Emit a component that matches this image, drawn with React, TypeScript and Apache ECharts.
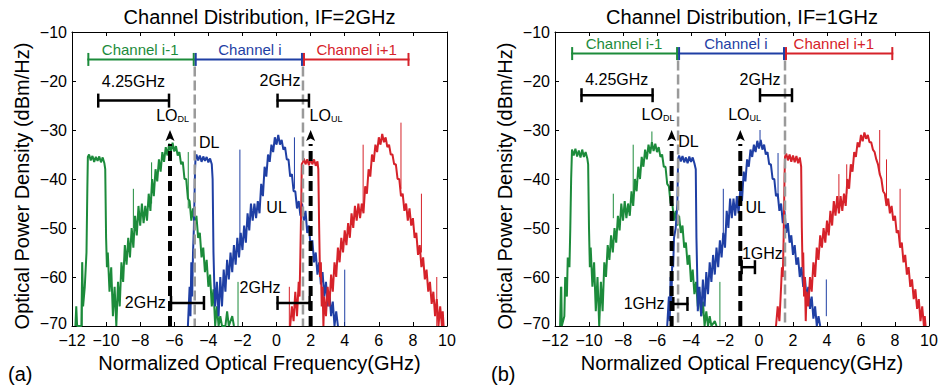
import React, { useEffect, useRef } from "react";
import * as echarts from "echarts";

type P = [number, number];

// ---------- axis ticks ----------
const xMin = -12, xMax = 10, xStep = 2;
const yMin = -70, yMax = -10, yStep = 10;

// ---------- panel (a) : IF = 2 GHz ----------
const greenA: P[] = [
  [-11.8,-70],[-11.75,-66],[-11.7,-70],[-11.45,-70],[-11.4,-57],[-11.35,-66],[-11.25,-62],[-11.15,-55],[-11.1,-42],[-11.07,-35.5],
  [-11.0,-35],[-10.9,-36.2],[-10.8,-35.3],[-10.7,-36.5],[-10.6,-35.5],[-10.5,-36.3],[-10.4,-35.4],[-10.3,-36.6],[-10.2,-35.6],[-10.1,-36.8],[-10.05,-38],
  [-10.0,-52],[-9.95,-58],[-9.9,-55],[-9.8,-63],[-9.7,-58],[-9.6,-68],[-9.5,-62],[-9.4,-70],[-9.3,-61],[-9.2,-66],[-9.1,-57],[-9.0,-61],
  [-8.9,-53.5],[-8.8,-57.5],[-8.7,-52],[-8.6,-56],[-8.5,-50],[-8.4,-54],[-8.3,-47.5],[-8.2,-51.5],[-8.1,-45.5],[-8.0,-49.5],[-7.9,-45],[-7.8,-49],
  [-7.7,-45.5],[-7.6,-48.5],[-7.5,-43],[-7.4,-46.5],[-7.3,-40],[-7.2,-43.5],[-7.1,-38],[-7.0,-40.5],[-6.9,-36],[-6.8,-38.5],[-6.7,-34.5],[-6.6,-36.5],
  [-6.5,-33.5],[-6.4,-35.2],[-6.3,-32.8],[-6.2,-34.5],[-6.1,-32.6],[-6.0,-34.4],[-5.9,-33.3],[-5.8,-35.2],[-5.7,-34.5],[-5.6,-37],[-5.5,-36.5],[-5.4,-40],
  [-5.3,-40],[-5.2,-44],[-5.1,-44.5],[-5.0,-48.5],[-4.9,-46],[-4.8,-49.5],[-4.7,-47.5],[-4.6,-52],[-4.5,-51],[-4.4,-56],[-4.3,-54],[-4.2,-59],
  [-4.1,-56.5],[-4.0,-62],[-3.9,-59.5],[-3.8,-66],[-3.7,-62.5],[-3.6,-70],[-3.5,-66],[-3.4,-70],[-3.3,-68],[-3.2,-70],[-3.0,-70],[-2.9,-67],[-2.8,-70],[-2.6,-68],[-2.5,-70]
];
const blueA: P[] = [
  [-5.2,-70],[-5.1,-62],[-5.05,-68],[-5.0,-57],[-4.95,-64],[-4.9,-55],[-4.85,-50],[-4.78,-38],[-4.75,-35.5],[-4.7,-35],[-4.6,-36.2],[-4.5,-35.2],
  [-4.4,-36.5],[-4.3,-35.4],[-4.2,-36.3],[-4.1,-35.5],[-4.0,-36.6],[-3.9,-35.8],[-3.8,-37],[-3.75,-40],[-3.7,-55],[-3.65,-62],
  [-3.6,-66],[-3.5,-61],[-3.4,-68],[-3.3,-60],[-3.2,-66],[-3.1,-58.5],[-3.0,-63],[-2.9,-56.5],[-2.8,-60.5],[-2.7,-55],[-2.6,-59],[-2.5,-53.5],
  [-2.4,-57.5],[-2.3,-52],[-2.2,-56],[-2.1,-51],[-2.0,-54.5],[-1.9,-49.5],[-1.8,-53],[-1.7,-47],[-1.6,-50.5],[-1.5,-45],[-1.4,-48.5],[-1.3,-45],
  [-1.2,-48],[-1.1,-44.5],[-1.0,-47],[-0.9,-41],[-0.8,-43.5],[-0.7,-37.5],[-0.6,-39.5],[-0.5,-35],[-0.4,-36.5],[-0.3,-33],[-0.2,-34.5],[-0.1,-31.5],
  [0.0,-33],[0.1,-31],[0.2,-33],[0.3,-32],[0.4,-34],[0.5,-33.5],[0.6,-36],[0.7,-36],[0.8,-39.5],[0.9,-39],[1.0,-42.5],[1.1,-42.5],[1.2,-46],
  [1.3,-44.5],[1.4,-47.5],[1.5,-45],[1.6,-48.5],[1.7,-46.5],[1.8,-51],[1.9,-49.5],[2.0,-54],[2.1,-52.5],[2.2,-57],[2.3,-55],[2.4,-59.5],[2.5,-57],
  [2.6,-61.5],[2.7,-59],[2.8,-64],[2.9,-61],[3.0,-66],[3.1,-63],[3.2,-68],[3.3,-65],[3.4,-70],[3.5,-67],[3.6,-70]
];
const redA: P[] = [
  [0.8,-70],[0.9,-66],[1.0,-69],[1.1,-63],[1.2,-68],[1.3,-61],[1.35,-64],[1.4,-55],[1.45,-45],[1.48,-37],[1.55,-36.5],[1.6,-35.8],[1.7,-37],
  [1.8,-36],[1.9,-37.2],[2.0,-35.8],[2.1,-37],[2.2,-36],[2.3,-37.3],[2.4,-36.4],[2.45,-38],[2.5,-50],[2.55,-60],[2.6,-57],[2.65,-66],[2.7,-62],
  [2.75,-70],[2.8,-64],[2.9,-68],[3.0,-62],[3.1,-66],[3.2,-59.5],[3.3,-63],[3.4,-57],[3.5,-60],[3.6,-54],[3.7,-57],[3.8,-52],[3.9,-55],[4.0,-50.5],
  [4.1,-53.5],[4.2,-49],[4.3,-52],[4.4,-47],[4.5,-50],[4.6,-45.5],[4.7,-48.5],[4.8,-45],[4.9,-48],[5.0,-45],[5.1,-47],[5.2,-41.5],[5.3,-43],
  [5.4,-38],[5.5,-39.5],[5.6,-35],[5.7,-36.5],[5.8,-33],[5.9,-34.5],[6.0,-31.5],[6.1,-33],[6.2,-30.8],[6.3,-32.5],[6.4,-31.5],[6.5,-33.5],[6.6,-33],
  [6.7,-35],[6.8,-35],[6.9,-37],[7.0,-37],[7.1,-40],[7.2,-40],[7.3,-43.5],[7.4,-43],[7.5,-46.5],[7.6,-45],[7.7,-48.5],[7.8,-46],[7.9,-49.5],
  [8.0,-48],[8.1,-52],[8.2,-51],[8.3,-55.5],[8.4,-53.5],[8.5,-58],[8.6,-56],[8.7,-60.5],[8.8,-58.5],[8.9,-63],[9.0,-61],[9.1,-65.5],[9.2,-63],
  [9.3,-68],[9.4,-64.5],[9.5,-70],[9.6,-66],[9.7,-70],[9.75,-67],[9.8,-70]
];
// spurs: [x, low, high]
const greenSpursA: number[][] = [[-11.4,-70,-57],[-8.4,-50,-42],[-7.33,-45,-36.6],[-5.18,-46,-34.5],[-2.26,-70,-61]];
const blueSpursA: number[][] = [[-2.15,-53,-34],[1.05,-42,-31.5],[4.0,-70,-58.5]];
const redSpursA: number[][] = [[0.75,-70,-62],[5.08,-46,-33],[7.3,-42,-28.5],[8.5,-55,-43],[9.4,-70,-60]];

const channelsA: number[][] = [[-11.1,-4.8,-15.6],[-4.8,1.55,-15.6],[1.55,7.8,-15.6]];
const channelLabelPosA: P[] = [[-8.0,-13.6],[-1.56,-13.6],[4.7,-13.6]];
const boundariesA: number[] = [-4.8, 1.55];
const bracketsA: number[][] = [[-10.52,-6.25,-24],[0,1.96,-24],[-6.25,-4.2,-65.3],[0,2,-65.3]];
const textsA: string[] = ["4.25GHz","2GHz","2GHz","2GHz","DL","UL"];
const textPosA: P[] = [[-8.4,-20.1],[0.2,-19.8],[-7.7,-65.3],[-0.97,-62.1],[-3.95,-32.6],[0,-45.8]];
const loXA: number[] = [-6.25, 2.0];
const loSubA: string[] = ["DL","UL"];
const loLabelPosA: P[] = [[-6.1,-27.1],[2.9,-27.1]];

// ---------- panel (b) : IF = 1 GHz ----------
const greenB: P[] = [
  [-11.7,-70],[-11.65,-62],[-11.6,-70],[-11.45,-68],[-11.4,-60],[-11.3,-64],[-11.25,-56],[-11.15,-58],[-11.1,-50],[-11.05,-40],[-11.0,-34],
  [-10.9,-35.2],[-10.8,-33.8],[-10.7,-35.4],[-10.6,-34.2],[-10.5,-35.6],[-10.4,-34],[-10.3,-35.5],[-10.2,-34.5],[-10.1,-35.8],[-10.05,-37],
  [-10.0,-50],[-9.95,-58],[-9.9,-54],[-9.8,-62],[-9.7,-57],[-9.6,-67],[-9.5,-60],[-9.4,-70],[-9.3,-61],[-9.2,-67],[-9.1,-57],[-9.0,-60],
  [-8.9,-53.5],[-8.8,-56.5],[-8.7,-51.5],[-8.6,-55],[-8.5,-50],[-8.4,-53],[-8.3,-47.5],[-8.2,-50.5],[-8.1,-45],[-8.0,-48.5],[-7.9,-44.5],[-7.8,-48],
  [-7.7,-45],[-7.6,-47.5],[-7.5,-42.5],[-7.4,-45.5],[-7.3,-40],[-7.2,-42.5],[-7.1,-37.5],[-7.0,-40],[-6.9,-35.5],[-6.8,-37.5],[-6.7,-34],[-6.6,-36],
  [-6.5,-33],[-6.4,-34.8],[-6.3,-32.5],[-6.2,-34.3],[-6.1,-32.8],[-6.0,-34.5],[-5.9,-33.5],[-5.8,-35.5],[-5.7,-35],[-5.6,-37.5],[-5.5,-37.5],[-5.4,-41],
  [-5.3,-41.5],[-5.2,-45],[-5.1,-45],[-5.0,-48.5],[-4.9,-46.5],[-4.8,-49.5],[-4.7,-47.5],[-4.6,-51],[-4.5,-49.5],[-4.4,-54],[-4.3,-53],[-4.2,-57.5],
  [-4.1,-55.5],[-4.0,-61],[-3.9,-58.5],[-3.8,-63.5],[-3.7,-61],[-3.6,-66],[-3.5,-63],[-3.4,-68],[-3.3,-65],[-3.2,-70],[-3.1,-67],[-3.0,-70],
  [-2.9,-68],[-2.8,-70],[-2.6,-69],[-2.5,-70]
];
const blueB: P[] = [
  [-5.4,-70],[-5.3,-64],[-5.25,-69],[-5.2,-60],[-5.15,-65],[-5.1,-56],[-5.05,-58],[-5.0,-52],[-4.9,-50],[-4.8,-45],[-4.77,-38],[-4.75,-35.8],
  [-4.7,-35.2],[-4.6,-36.4],[-4.5,-35.3],[-4.4,-36.6],[-4.3,-35.6],[-4.2,-36.8],[-4.1,-35.4],[-4.0,-36.5],[-3.9,-35.6],[-3.8,-36.8],[-3.72,-38],
  [-3.68,-52],[-3.62,-62],[-3.6,-67],[-3.5,-62],[-3.4,-68],[-3.3,-60.5],[-3.2,-66],[-3.1,-59],[-3.0,-63.5],[-2.9,-57],[-2.8,-61],[-2.7,-55.5],
  [-2.6,-59.5],[-2.5,-54],[-2.4,-58],[-2.3,-52.5],[-2.2,-56],[-2.1,-51],[-2.0,-54],[-1.9,-46.5],[-1.8,-50],[-1.7,-44],[-1.6,-48],[-1.5,-44],
  [-1.4,-47.5],[-1.3,-43.5],[-1.2,-47],[-1.1,-42],[-1.0,-44.5],[-0.9,-38.5],[-0.8,-40.5],[-0.7,-36],[-0.6,-37.5],[-0.5,-34],[-0.4,-35.5],[-0.3,-33],
  [-0.2,-34.5],[-0.1,-32.2],[0.0,-33.8],[0.1,-32],[0.2,-34],[0.3,-33],[0.4,-35],[0.5,-34.5],[0.6,-37],[0.7,-37],[0.8,-40],[0.9,-40],[1.0,-43.5],
  [1.1,-43],[1.2,-46.5],[1.3,-45],[1.4,-49],[1.5,-46.5],[1.6,-51],[1.7,-49],[1.8,-53],[1.9,-51.5],[2.0,-55.5],[2.1,-53.5],[2.2,-57.5],[2.3,-56],
  [2.4,-60],[2.5,-58],[2.6,-62],[2.7,-60],[2.8,-64.5],[2.9,-62],[3.0,-66.5],[3.1,-64],[3.2,-68.5],[3.3,-66],[3.4,-70],[3.5,-68],[3.6,-70]
];
const redB: P[] = [
  [1.0,-70],[1.1,-66],[1.2,-69],[1.3,-62],[1.35,-58],[1.4,-60],[1.45,-52],[1.5,-40],[1.53,-35.5],[1.6,-34.8],[1.7,-36.2],[1.8,-35],[1.9,-36.5],
  [2.0,-35.2],[2.1,-36.6],[2.2,-35.3],[2.3,-36.8],[2.4,-35.6],[2.48,-37.5],[2.52,-50],[2.56,-58],[2.6,-55],[2.65,-64],[2.7,-60],[2.75,-69],[2.8,-63],
  [2.9,-66],[3.0,-60],[3.1,-63],[3.2,-57],[3.3,-60],[3.4,-54],[3.5,-56.5],[3.6,-51.5],[3.7,-54],[3.8,-50],[3.9,-53],[4.0,-48.5],[4.1,-51.5],
  [4.2,-46.5],[4.3,-49.5],[4.4,-44.5],[4.5,-47.5],[4.6,-43.5],[4.7,-47],[4.8,-43.5],[4.9,-46.5],[5.0,-43],[5.1,-45.5],[5.2,-40],[5.3,-42],[5.4,-37],
  [5.5,-38.5],[5.6,-34.5],[5.7,-35.5],[5.8,-32.5],[5.9,-33.5],[6.0,-31],[6.1,-32.3],[6.2,-30.5],[6.3,-31.8],[6.4,-31],[6.5,-32.5],[6.6,-32.5],
  [6.7,-34],[6.8,-34.5],[6.9,-36],[7.0,-37],[7.1,-39],[7.2,-40],[7.3,-42.5],[7.4,-43],[7.5,-45.5],[7.6,-44],[7.7,-47],[7.8,-45.5],[7.9,-48.5],
  [8.0,-47.5],[8.1,-51],[8.2,-50.5],[8.3,-54],[8.4,-53],[8.5,-57],[8.6,-55.5],[8.7,-59.5],[8.8,-58],[8.9,-62],[9.0,-60.5],[9.1,-64.5],[9.2,-62.5],
  [9.3,-66.5],[9.4,-64.5],[9.5,-69],[9.6,-66],[9.7,-70],[9.75,-68],[9.8,-70]
];
const greenSpursB: number[][] = [[-11.6,-70,-62],[-8.57,-48,-43],[-7.4,-44,-33],[-6.3,-33,-30.3],[-2.3,-70,-61]];
const blueSpursB: number[][] = [[-2.1,-52,-42],[0.06,-32,-30],[1.12,-44,-34.7],[3.96,-68,-60.5]];
const redSpursB: number[][] = [[4.7,-46,-39],[5.16,-43,-37],[7.1,-39,-30],[7.5,-45,-36],[8.3,-53,-42]];

const channelsB: number[][] = [[-11.05,-4.76,-14.4],[-4.76,1.53,-14.4],[1.53,7.9,-14.4]];
const channelLabelPosB: P[] = [[-7.94,-12.4],[-1.36,-12.4],[4.4,-12.4]];
const boundariesB: number[] = [-4.76, 1.53];
const bracketsB: number[][] = [[-10.5,-6.2,-22.9],[0,2,-22.9],[-5.1,-4.15,-65.5],[-1.08,-0.18,-58]];
const textsB: string[] = ["4.25GHz","2GHz","1GHz","1GHz","DL","UL"];
const textPosB: P[] = [[-8.37,-19.6],[0.06,-19.6],[-6.76,-65.5],[0.2,-55.2],[-4.15,-32.4],[-0.2,-45.8]];
const loXB: number[] = [-5.14, -1.1];
const loSubB: string[] = ["DL","UL"];
const loLabelPosB: P[] = [[-5.94,-26.9],[-0.85,-26.9]];

const channelNames: string[] = ["Channel i-1","Channel i","Channel i+1"];
const titles: string[] = ["Channel Distribution, IF=2GHz","Channel Distribution, IF=1GHz"];
const loArrowTip = -30;

// ---------- styles ----------
const FONT = "'Liberation Sans', Arial, Helvetica, sans-serif";
const GREEN = "#1c8b3b";
const BLUE = "#1f3fa4";
const RED = "#d6222a";
const CH_COLORS = [GREEN, BLUE, RED];
const GRIDS = [
  { left: 72, right: 496, top: 32, bottom: 61 },
  { left: 555, right: 14, top: 32, bottom: 61 },
];

const fmtX = (v: number) => (v < 0 ? "\u2212" + Math.abs(v) : String(v));
const fmtY = (v: number) => {
  const s = v < 0 ? "\u2212" + Math.abs(v) : String(v);
  return v === yMin ? "{low|" + s + "}" : s;
};

function axes(gi: number) {
  const tick = { inside: true, length: 4, lineStyle: { color: "#000", width: 1 } };
  const line = { show: true, onZero: false, lineStyle: { color: "#000", width: 1 } };
  const xs = [
    {
      type: "value", gridIndex: gi, position: "bottom", min: xMin, max: xMax, interval: xStep,
      axisLine: line, axisTick: tick, splitLine: { show: false },
      axisLabel: { fontSize: 16, lineHeight: 16, color: "#000", fontFamily: FONT, margin: 6, formatter: fmtX },
      name: "Normalized Optical Frequency(GHz)", nameLocation: "middle", nameGap: 21,
      nameTruncate: { maxWidth: 2000 },
      nameTextStyle: { fontSize: 20, color: "#000", fontFamily: FONT, overflow: "none" },
    },
    {
      type: "value", gridIndex: gi, position: "top", min: xMin, max: xMax, interval: xStep,
      axisLine: line, axisTick: tick, splitLine: { show: false }, axisLabel: { show: false },
    },
  ];
  const ys = [
    {
      type: "value", gridIndex: gi, position: "left", min: yMin, max: yMax, interval: yStep,
      axisLine: line, axisTick: tick, splitLine: { show: false },
      axisLabel: {
        fontSize: 16, lineHeight: 16, color: "#000", fontFamily: FONT, margin: 5, formatter: fmtY,
        rich: { low: { fontSize: 16, fontFamily: FONT, color: "#000", lineHeight: 16, padding: [0, 0, 6, 0] } },
      },
      name: "Optical Power Density (dBm/Hz)", nameLocation: "middle", nameGap: 40,
      nameTruncate: { maxWidth: 2000 },
      nameTextStyle: { fontSize: 20, color: "#000", fontFamily: FONT, overflow: "none", padding: [0, 14, 0, 0] },
    },
    {
      type: "value", gridIndex: gi, position: "right", min: yMin, max: yMax, interval: yStep,
      axisLine: line, axisTick: tick, splitLine: { show: false }, axisLabel: { show: false },
    },
  ];
  return { xs, ys };
}

function spectrum(data: P[], color: string, gi: number, z: number) {
  return {
    type: "line", xAxisIndex: gi * 2, yAxisIndex: gi * 2, data, showSymbol: false, symbol: "none",
    lineStyle: { color, width: 2 }, z, silent: true,
  };
}

function spurs(data: number[][], color: string, gi: number) {
  return {
    type: "custom", xAxisIndex: gi * 2, yAxisIndex: gi * 2, data, z: 3, silent: true, clip: true,
    renderItem: (_p: any, api: any) => {
      const a = api.coord([api.value(0), api.value(1)]);
      const b = api.coord([api.value(0), api.value(2)]);
      return { type: "line", shape: { x1: a[0], y1: a[1], x2: b[0], y2: b[1] }, style: { stroke: color, lineWidth: 1 } };
    },
  };
}

function brackets(data: number[][], colors: string[], gi: number, width: number, cap: number) {
  return {
    type: "custom", xAxisIndex: gi * 2, yAxisIndex: gi * 2, data, z: 6, silent: true,
    renderItem: (p: any, api: any) => {
      const a = api.coord([api.value(0), api.value(2)]);
      const b = api.coord([api.value(1), api.value(2)]);
      const stroke = colors[p.dataIndex % colors.length];
      const st = { stroke, lineWidth: width };
      return {
        type: "group",
        children: [
          { type: "line", shape: { x1: a[0], y1: a[1], x2: b[0], y2: b[1] }, style: st },
          { type: "line", shape: { x1: a[0] + 1, y1: a[1] - cap, x2: a[0] + 1, y2: a[1] + cap }, style: st },
          { type: "line", shape: { x1: b[0] - 1, y1: b[1] - cap, x2: b[0] - 1, y2: b[1] + cap }, style: st },
        ],
      };
    },
  };
}

function texts(pos: P[], labels: string[], colors: string[], gi: number, size: number) {
  return {
    type: "custom", xAxisIndex: gi * 2, yAxisIndex: gi * 2, data: pos, z: 7, silent: true,
    renderItem: (p: any, api: any) => {
      const c = api.coord([api.value(0), api.value(1)]);
      return {
        type: "text", x: c[0], y: c[1],
        style: {
          text: labels[p.dataIndex], fill: colors[p.dataIndex % colors.length], fontSize: size,
          fontFamily: FONT, align: "center", verticalAlign: "middle",
        },
      };
    },
  };
}

function loLabels(pos: P[], subs: string[], gi: number) {
  return {
    type: "custom", xAxisIndex: gi * 2, yAxisIndex: gi * 2, data: pos, z: 7, silent: true,
    renderItem: (p: any, api: any) => {
      const c = api.coord([api.value(0), api.value(1)]);
      return {
        type: "text", x: c[0], y: c[1],
        style: {
          text: "{m|LO}{s|" + subs[p.dataIndex] + "}", align: "center", verticalAlign: "middle",
          rich: {
            m: { fontSize: 16, fontFamily: FONT, fill: "#000", color: "#000", lineHeight: 16, verticalAlign: "top" },
            s: { fontSize: 9, fontFamily: FONT, fill: "#000", color: "#000", lineHeight: 6, verticalAlign: "bottom" },
          },
        },
      };
    },
  };
}

function dashedVerticals(xs: number[], top: number, gi: number) {
  return {
    type: "custom", xAxisIndex: gi * 2, yAxisIndex: gi * 2, data: xs.map((x) => [x, top]), z: 5, silent: true,
    renderItem: (_p: any, api: any) => {
      const a = api.coord([api.value(0), api.value(1)]);
      const b = api.coord([api.value(0), yMin]);
      return {
        type: "line", shape: { x1: a[0], y1: a[1] + 7, x2: b[0], y2: b[1] },
        style: { stroke: "#9a9a9a", lineWidth: 2.5, lineDash: [10, 4] },
      };
    },
  };
}

function loLines(xs: number[], gi: number) {
  return {
    type: "custom", xAxisIndex: gi * 2, yAxisIndex: gi * 2, data: xs.map((x) => [x, loArrowTip]), z: 8, silent: true,
    renderItem: (_p: any, api: any) => {
      const t = api.coord([api.value(0), api.value(1)]);
      const b = api.coord([api.value(0), yMin]);
      return {
        type: "group",
        children: [
          {
            type: "line", shape: { x1: b[0], y1: b[1], x2: t[0], y2: t[1] + 14 },
            style: { stroke: "#000", lineWidth: 4, lineDash: [10, 5] },
          },
          {
            type: "polygon",
            shape: { points: [[t[0], t[1]], [t[0] + 4.5, t[1] + 11], [t[0], t[1] + 8.5], [t[0] - 4.5, t[1] + 11]] },
            style: { fill: "#000" },
          },
        ],
      };
    },
  };
}

function panelSeries(
  gi: number, g: P[], b: P[], r: P[], gs: number[][], bs: number[][], rs: number[][],
  ch: number[][], chPos: P[], bounds: number[], br: number[][], tx: string[], txPos: P[],
  loX: number[], loSub: string[], loPos: P[]
) {
  return [
    spectrum(g, GREEN, gi, 2),
    spectrum(b, BLUE, gi, 2),
    spectrum(r, RED, gi, 2),
    spurs(gs, GREEN, gi),
    spurs(bs, BLUE, gi),
    spurs(rs, RED, gi),
    dashedVerticals(bounds, ch[0][2], gi),
    brackets(ch, CH_COLORS, gi, 2, 6.5),
    texts(chPos, channelNames, CH_COLORS, gi, 15),
    brackets(br, ["#000"], gi, 2.5, 7),
    texts(txPos, tx, ["#000"], gi, 16),
    loLines(loX, gi),
    loLabels(loPos, loSub, gi),
  ];
}

function buildOption() {
  const a = axes(0);
  const b = axes(1);
  return {
    animation: false,
    grid: GRIDS,
    xAxis: [...a.xs, ...b.xs],
    yAxis: [...a.ys, ...b.ys],
    graphic: [
      { type: "text", x: 259.5, y: 17, style: { text: titles[0], fontSize: 20, fontFamily: FONT, fill: "#000", align: "center", verticalAlign: "middle" } },
      { type: "text", x: 742, y: 17, style: { text: titles[1], fontSize: 20, fontFamily: FONT, fill: "#000", align: "center", verticalAlign: "middle" } },
      { type: "text", x: 8, y: 374, style: { text: "(a)", fontSize: 20, fontFamily: FONT, fill: "#000", align: "left", verticalAlign: "middle" } },
      { type: "text", x: 491, y: 374, style: { text: "(b)", fontSize: 20, fontFamily: FONT, fill: "#000", align: "left", verticalAlign: "middle" } },
    ],
    series: [
      ...panelSeries(0, greenA, blueA, redA, greenSpursA, blueSpursA, redSpursA, channelsA, channelLabelPosA,
        boundariesA, bracketsA, textsA, textPosA, loXA, loSubA, loLabelPosA),
      ...panelSeries(1, greenB, blueB, redB, greenSpursB, blueSpursB, redSpursB, channelsB, channelLabelPosB,
        boundariesB, bracketsB, textsB, textPosB, loXB, loSubB, loLabelPosB),
    ],
  };
}

export default function App() {
  const ref = useRef<HTMLDivElement>(null);
  useEffect(() => {
    const chart = echarts.init(ref.current!, null, { renderer: "svg" });
    chart.setOption(buildOption() as any);
    return () => chart.dispose();
  }, []);
  return (
    <div
      ref={ref}
      style={{ position: "absolute", left: 0, top: 0, width: 943, height: 387, background: "#fff" }}
    />
  );
}
